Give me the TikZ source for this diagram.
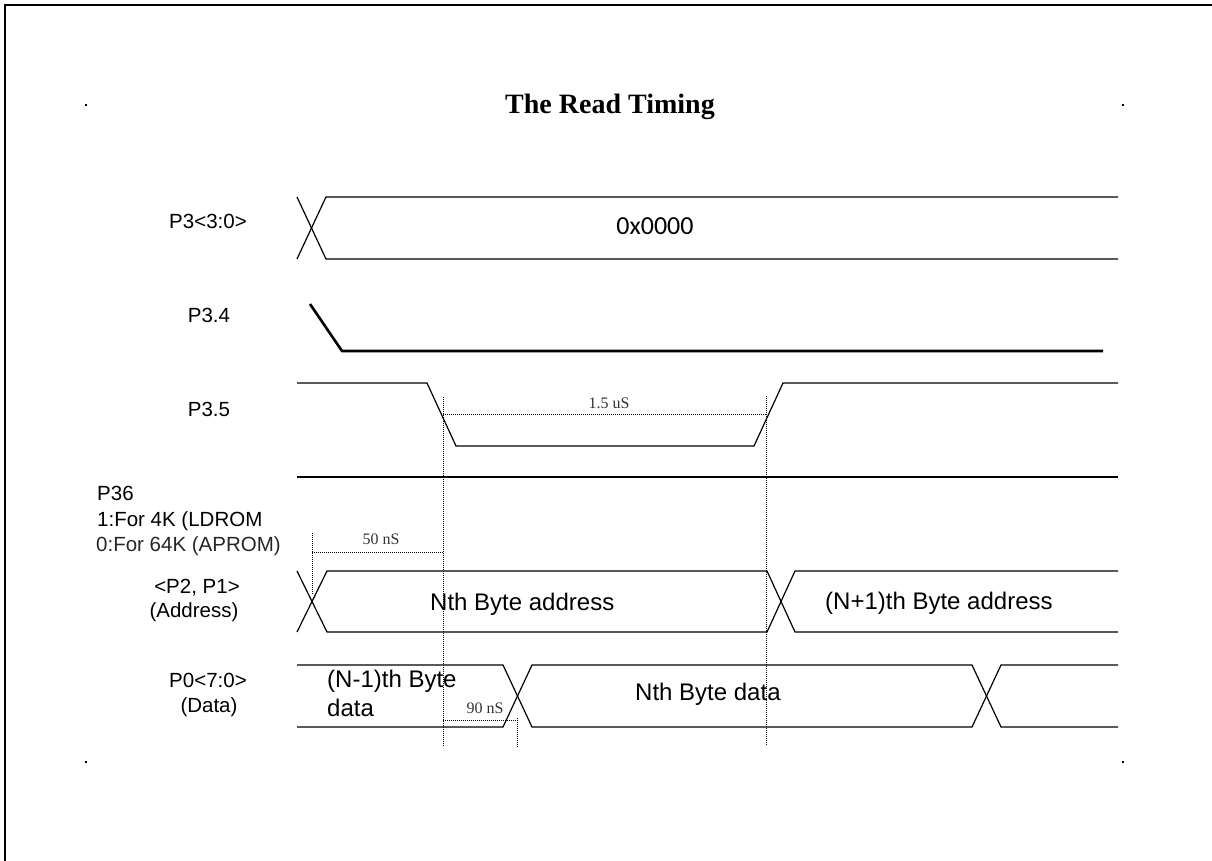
\documentclass[tikz,border=0pt]{standalone}
\usepackage{fontspec}
\setmainfont{Liberation Serif}
\newfontfamily\arialf{Liberation Sans}
\newfontfamily\calibf{Carlito}
\tikzset{
  sig/.style={line width=1.2pt, line join=miter},
  thicksig/.style={line width=2.6pt},
  dimline/.style={line width=1pt, dash pattern=on 1pt off 1pt},
  lbl/.style={font=\arialf\fontsize{20.5}{24}\selectfont, inner sep=0pt},
  buslbl/.style={font=\arialf\fontsize{24}{28}\selectfont, inner sep=0pt},
  timelbl/.style={font=\fontsize{16}{19}\selectfont, text=black!80, inner sep=0pt},
  dotmark/.style={fill=black, draw=none}
}
\begin{document}
\begin{tikzpicture}[x=1pt, y=-1pt]
\useasboundingbox (0,0) rectangle (1212,861);
% frame
\draw[line width=2.6pt] (5,870) -- (5,5) -- (1220,5);
% corner marks
\foreach \p in {(86,105),(1123,105),(86,762),(1123,762)}
  \fill[dotmark] \p ++(-1.2,-1.2) rectangle ++(2.4,2.4);
% title
\node[font=\bfseries\fontsize{28}{32}\selectfont, inner sep=0pt] (title) at (610,107) {The Read Timing};

% signal labels
\node[lbl, anchor=base] (l30) at (208,229) {P3<3:0>};
\node[lbl, anchor=base] (l34) at (209,322) {P3.4};
\node[lbl, anchor=base] (l35) at (209,416) {P3.5};
\node[lbl, anchor=base west] (l36a) at (97,500) {P36};
\node[lbl, anchor=base west] (l36b) at (97,526) {1:For 4K (LDROM};
\node[lbl, anchor=base west, text=black!85] (l36c) at (96,551) {0:For 64K (APROM)};
\node[lbl, anchor=base] (laddr1) at (197,593) {<P2, P1>};
\node[lbl, anchor=base] (laddr2) at (194,617) {(Address)};
\node[lbl, anchor=base] (ldat1) at (208,687) {P0<7:0>};
\node[lbl, anchor=base] (ldat2) at (209,712) {(Data)};

% P3<3:0>
\draw[sig] (297,197) -- (326,259) -- (1118,259);
\draw[sig] (297,259) -- (326,197) -- (1118,197);
\node[font=\calibf\fontsize{26}{30}\selectfont, inner sep=0pt, anchor=base] (v30) at (655,234) {0x0000};

% P3.4
\draw[thicksig] (310,304) -- (342,351) -- (1103,351);

% P3.5
\draw[sig] (297,383) -- (427,383) -- (456,446) -- (754,446) -- (783,383) -- (1118,383);

% P36
\draw[sig] (297,477) -- (1118,477);

% Address
\draw[sig] (297,571) -- (327,632) -- (767,632) -- (795,571) -- (1118,571);
\draw[sig] (297,632) -- (327,571) -- (767,571) -- (795,632) -- (1118,632);
\node[buslbl, anchor=base west] (va1) at (430,610) {Nth Byte address};
\node[buslbl, anchor=base west] (va2) at (825,609) {(N+1)th Byte address};

% Data
\draw[sig] (297,665) -- (503,665) -- (532,727) -- (972,727) -- (1001,665) -- (1118,665);
\draw[sig] (297,727) -- (503,727) -- (532,665) -- (972,665) -- (1001,727) -- (1118,727);
\node[buslbl, anchor=base west] (vd1a) at (327,687) {(N-1)th Byte};
\node[buslbl, anchor=base west] (vd1b) at (327,716) {data};
\node[buslbl, anchor=base west] (vd2) at (635,700) {Nth Byte data};

% timing marks
\coordinate (t1top) at (443,397);
\coordinate (t1bot) at (443,747);
\coordinate (t2top) at (766,396);
\coordinate (t2bot) at (766,745);
\draw[dimline] (t1top) -- (t1bot);
\draw[dimline] (t2top) -- (t2bot);
\draw[dimline] (443,414) -- (766,414);
\node[timelbl, anchor=base] (d15) at (609,408) {1.5 uS};

\coordinate (t0top) at (312,533);
\coordinate (t0bot) at (312,595);
\draw[dimline] (t0top) -- (t0bot);
\draw[dimline] (312,552) -- (443,552);
\node[timelbl, anchor=base] (d50) at (381,544) {50 nS};

\coordinate (t3top) at (517,718);
\coordinate (t3bot) at (517,747);
\draw[dimline] (t3top) -- (t3bot);
\draw[dimline] (443,720) -- (517,720);
\node[timelbl, anchor=base] (d90) at (485,713) {90 nS};
\end{tikzpicture}
\end{document}
